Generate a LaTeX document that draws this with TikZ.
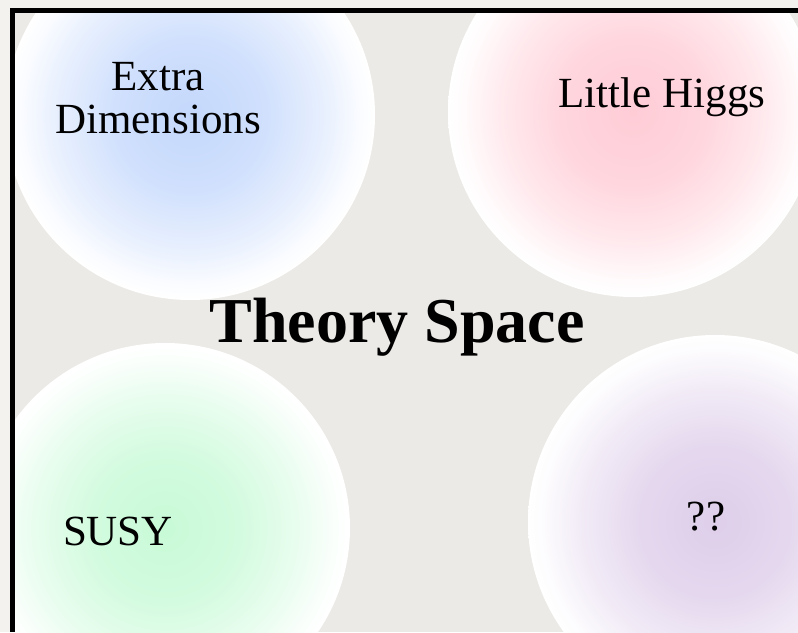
\documentclass[tikz,border=0pt]{standalone}
\usepackage{fontspec}
\setmainfont{Liberation Serif}
\definecolor{margingray}{RGB}{243,242,239}
\definecolor{spacegray}{RGB}{235,234,230}
\definecolor{edblue}{RGB}{196,216,252}
\definecolor{lhpink}{RGB}{255,204,214}
\definecolor{susygreen}{RGB}{200,250,215}
\definecolor{qqpurple}{RGB}{222,206,234}
% soft bubbles: colour in the middle, white at the rim
\pgfdeclareradialshading{edbubble}{\pgfpoint{0bp}{0bp}}{color(0bp)=(edblue); color(10bp)=(edblue!80!white); color(18bp)=(edblue!40!white); color(23bp)=(edblue!8!white); color(25bp)=(white); color(50bp)=(white)}
\pgfdeclareradialshading{lhbubble}{\pgfpoint{0bp}{0bp}}{color(0bp)=(lhpink); color(10bp)=(lhpink!80!white); color(18bp)=(lhpink!40!white); color(23bp)=(lhpink!8!white); color(25bp)=(white); color(50bp)=(white)}
\pgfdeclareradialshading{susybubble}{\pgfpoint{0bp}{0bp}}{color(0bp)=(susygreen); color(10bp)=(susygreen!80!white); color(18bp)=(susygreen!40!white); color(23bp)=(susygreen!8!white); color(25bp)=(white); color(50bp)=(white)}
\pgfdeclareradialshading{qqbubble}{\pgfpoint{0bp}{0bp}}{color(0bp)=(qqpurple); color(10bp)=(qqpurple!80!white); color(18bp)=(qqpurple!40!white); color(23bp)=(qqpurple!8!white); color(25bp)=(white); color(50bp)=(white)}
\tikzset{
  bubble/.style={shading=#1},
  model/.style={font=\fontsize{43}{43}\selectfont, anchor=base, align=center, inner sep=0pt},
}
\begin{document}
\begin{tikzpicture}[x=1pt,y=-1pt]
  \useasboundingbox (0,0) rectangle (798,632);

  % background and frame area
  \fill[margingray] (0,0) rectangle (798,632);
  \fill[spacegray] (15,13) rectangle (798,632);

  % the four model bubbles
  \begin{scope}
    \clip (15,13) rectangle (798,632);
    \shade[bubble=edbubble] (190,115) circle (185);
    \shade[bubble=lhbubble] (633,112) circle (185);
    \shade[bubble=susybubble] (165,528) circle (185);
    \shade[bubble=qqbubble] (715,522) circle (187);
  \end{scope}

  % frame
  \draw[line width=5pt] (12.5,632) -- (12.5,10.5) -- (798,10.5);

  % labels
  \node[model] (extra) at (158,133) {Extra\\Dimensions};
  \node[model] (higgs) at (662,107) {Little Higgs};
  \node[model] (susy) at (118,545) {SUSY};
  \node[model] (unknown) at (706,530) {??};
  \node[model, font=\fontsize{64}{66}\selectfont\bfseries] (space) at (397,342) {Theory Space};
\end{tikzpicture}
\end{document}
